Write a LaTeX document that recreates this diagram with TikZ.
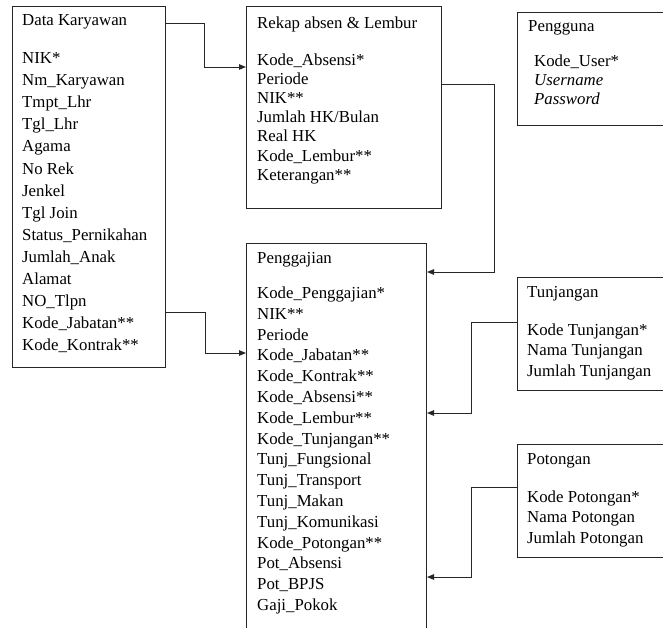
\documentclass[tikz,border=0pt]{standalone}
\usepackage{fontspec}
\setmainfont{Liberation Serif}
\usetikzlibrary{arrows.meta}
\begin{document}
\begin{tikzpicture}[x=1pt,y=-1pt,
  box/.style={draw=black!85,line width=1pt,inner sep=0pt,anchor=north west},
  txt/.style={anchor=base west,inner sep=0pt,font=\fontsize{16.8}{18}\selectfont},
  conn/.style={draw=black!85,line width=1pt,-{Triangle[length=7pt,width=5.5pt]}}]
\useasboundingbox (0,0) rectangle (663,627);
\clip (0,0) rectangle (663,627);
% boxes
\node[box,minimum width=153pt,minimum height=361pt] (dk) at (12,6) {};
\node[box,minimum width=195pt,minimum height=202pt] (rekap) at (246,6) {};
\node[box,minimum width=180pt,minimum height=410pt] (gaji) at (246,243) {};
\node[box,minimum width=170pt,minimum height=113pt] (user) at (517,12) {};
\node[box,minimum width=170pt,minimum height=113pt] (tunj) at (517,277) {};
\node[box,minimum width=170pt,minimum height=113pt] (pot) at (517,444) {};
% Data Karyawan
\node[txt] (dkt) at (22,25) {Data Karyawan};
\foreach \t [count=\i] in {NIK*,Nm\_Karyawan,Tmpt\_Lhr,Tgl\_Lhr,Agama,No Rek,Jenkel,Tgl Join,Status\_Pernikahan,Jumlah\_Anak,Alamat,NO\_Tlpn,Kode\_Jabatan**,Kode\_Kontrak**}
  \node[txt] (dk\i) at (22,{63.5+(\i-1)*22.1}) {\t};
% Rekap
\node[txt] (rekapt) at (257,28.5) {Rekap absen \& Lembur};
\foreach \t [count=\i] in {Kode\_Absensi*,Periode,NIK**,Jumlah HK/Bulan,Real HK,Kode\_Lembur**,Keterangan**}
  \node[txt] (rk\i) at (257,{65+(\i-1)*19.2}) {\t};
% Penggajian
\node[txt] (gajit) at (257,263) {Penggajian};
\foreach \t [count=\i] in {Kode\_Penggajian*,NIK**,Periode,Kode\_Jabatan**,Kode\_Kontrak**,Kode\_Absensi**,Kode\_Lembur**,Kode\_Tunjangan**,Tunj\_Fungsional,Tunj\_Transport,Tunj\_Makan,Tunj\_Komunikasi,Kode\_Potongan**,Pot\_Absensi,Pot\_BPJS,Gaji\_Pokok}
  \node[txt] (gj\i) at (257,{298.5+(\i-1)*20.8}) {\t};
% Pengguna
\node[txt] (usert) at (528,31) {Pengguna};
\node[txt] (us1) at (534,66.5) {Kode\_User*};
\node[txt] (us2) at (534,85.5) {\itshape Username};
\node[txt] (us3) at (534,104) {\itshape Password};
% Tunjangan
\node[txt] (tunjt) at (527,297) {Tunjangan};
\node[txt] (tj1) at (527,335) {Kode Tunjangan*};
\node[txt] (tj2) at (527,355.5) {Nama Tunjangan};
\node[txt] (tj3) at (527,376) {Jumlah Tunjangan};
% Potongan
\node[txt] (pott) at (527,464) {Potongan};
\node[txt] (pt1) at (527,502) {Kode Potongan*};
\node[txt] (pt2) at (527,522.5) {Nama Potongan};
\node[txt] (pt3) at (527,543) {Jumlah Potongan};
% connectors
\draw[conn] ([yshift=-17pt]dk.north east) -- ++(38,0) |- ([yshift=-61pt]rekap.north west);
\draw[conn] ([yshift=-306pt]dk.north east) -- ++(39,0) |- ([yshift=-110pt]gaji.north west);
\draw[conn] ([yshift=-78pt]rekap.north east) -- ++(52,0) |- ([yshift=-29pt]gaji.north east);
\draw[conn] ([yshift=-45pt]tunj.north west) -- ++(-46,0) |- ([yshift=-170pt]gaji.north east);
\draw[conn] ([yshift=-43pt]pot.north west) -- ++(-46,0) |- ([yshift=-334pt]gaji.north east);
\end{tikzpicture}
\end{document}
